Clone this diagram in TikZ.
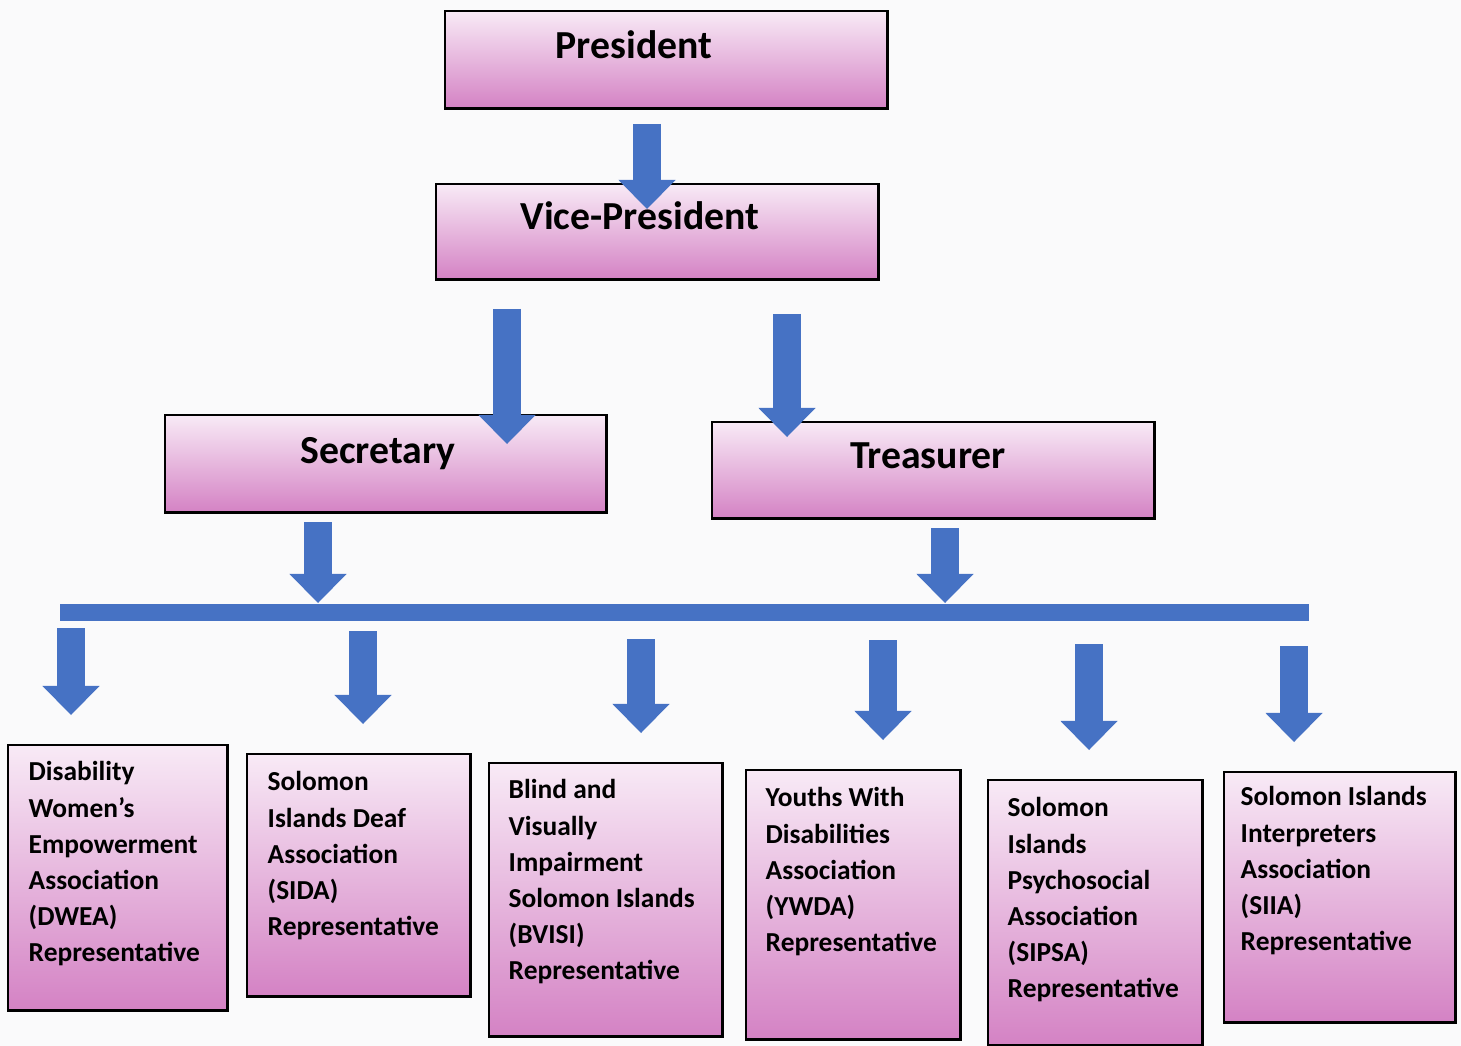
\documentclass[tikz,border=0pt]{standalone}
\usepackage{fontspec}
\setmainfont{Carlito}
\usetikzlibrary{arrows.meta, calc, positioning}

\definecolor{arrowblue}{RGB}{70,114,196}
\definecolor{pinktop}{RGB}{248,234,246}
\definecolor{pinkmid}{RGB}{234,182,222}
\definecolor{pinkbot}{RGB}{212,130,196}
\definecolor{paper}{RGB}{250,250,251}

\tikzset{
	post/.style={rectangle, draw=black, line width=0.7pt, top color=pinktop,
		middle color=pinkmid, bottom color=pinkbot, inner sep=0pt, anchor=north west},
	title/.style={anchor=base, inner sep=0pt, font=\fontsize{11.3}{13.5}\selectfont\bfseries},
	rep/.style={anchor=north west, align=left, inner sep=0pt,
		font=\fontsize{7.8}{10.25}\selectfont\bfseries},
	blockarrow/.style={draw=arrowblue, line width=0.28cm,
		-{Triangle[width=0.57cm, length=0.29cm, line width=0pt]}},
}

\begin{document}
\begin{tikzpicture}[x=0.01cm, y=-0.01cm]
	\fill[paper] (0,0) rectangle (1461,1046);
	\useasboundingbox (0,0) rectangle (1461,1046);

	% office bearers
	\node[post, minimum width=4.42cm, minimum height=0.97cm] (pres) at (444,10) {};
	\node[post, minimum width=4.42cm, minimum height=0.95cm] (vp) at (435,183) {};
	\node[post, minimum width=4.41cm, minimum height=0.97cm] (sec) at (164,414) {};
	\node[post, minimum width=4.42cm, minimum height=0.96cm] (tre) at (711,421) {};
	\node[title] (prest) at (634,59) {President};
	\node[title] (vpt) at (640,230) {Vice-President};
	\node[title] (sect) at (378,463) {Secretary};
	\node[title] (tret) at (928,468) {Treasurer};

	% bar
	\node[rectangle, fill=arrowblue, inner sep=0pt, anchor=north west,
		minimum width=12.49cm, minimum height=0.17cm] (bar) at (59,603) {};

	% representatives
	\node[post, minimum width=2.19cm, minimum height=2.65cm] (dwea) at (7,744) {};
	\node[post, minimum width=2.23cm, minimum height=2.42cm] (sida) at (246,753) {};
	\node[post, minimum width=2.33cm, minimum height=2.73cm] (bvisi) at (488,762) {};
	\node[post, minimum width=2.14cm, minimum height=2.69cm] (ywda) at (745,769) {};
	\node[post, minimum width=2.14cm, minimum height=2.65cm] (sipsa) at (987,779) {};
	\node[post, minimum width=2.31cm, minimum height=2.50cm] (siia) at (1223,771) {};

	\node[rep] (dweat) at ($(dwea.north west)+(21,17)$)
		{Disability\\Women’s\\Empowerment\\Association\\(DWEA)\\Representative};
	\node[rep] (sidat) at ($(sida.north west)+(21,18)$)
		{Solomon\\Islands Deaf\\Association\\(SIDA)\\Representative};
	\node[rep] (bvisit) at ($(bvisi.north west)+(20,17)$)
		{Blind and\\Visually\\Impairment\\Solomon Islands\\(BVISI)\\Representative};
	\node[rep] (ywdat) at ($(ywda.north west)+(20,18)$)
		{Youths With\\Disabilities\\Association\\(YWDA)\\Representative};
	\node[rep] (sipsat) at ($(sipsa.north west)+(20,18)$)
		{Solomon\\Islands\\Psychosocial\\Association\\(SIPSA)\\Representative};
	\node[rep] (siiat) at ($(siia.north west)+(17,15)$)
		{Solomon Islands\\Interpreters\\Association\\(SIIA)\\Representative};

	% arrows
	\coordinate (down1) at (647,124);
	\coordinate (down2) at (507,309);
	\coordinate (down3) at (787,314);
	\coordinate (down4) at (318,522);
	\coordinate (down5) at (945,528);
	\draw[blockarrow] (down1) -- ($(down1 |- vp.north)+(0,26)$);
	\draw[blockarrow] (down2) -- ($(down2 |- sec.north)+(0,30)$);
	\draw[blockarrow] (down3) -- ($(down3 |- tre.north)+(0,16)$);
	\draw[blockarrow] (down4) -- (down4 |- bar.north);
	\draw[blockarrow] (down5) -- (down5 |- bar.north);
	\foreach \b/\x/\s in {dwea/71/628, sida/363/631, bvisi/641/639,
		ywda/883/640, sipsa/1089/644, siia/1294/646}{
		\coordinate (\b top) at (\x,\s);
		\draw[blockarrow] (\b top) -- ($(\b top |- \b.north)+(0,-29)$);
	}
\end{tikzpicture}
\end{document}
